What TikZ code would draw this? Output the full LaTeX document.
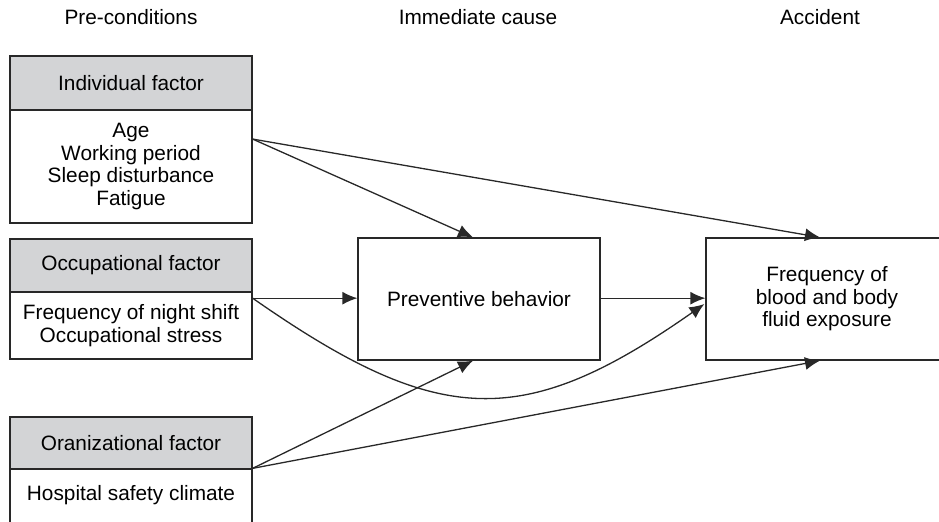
\documentclass[tikz,border=0pt]{standalone}
\usepackage{fontspec}
\setmainfont{Liberation Sans}
\usetikzlibrary{positioning, arrows.meta, calc}
\definecolor{headgray}{RGB}{211,212,214}
\definecolor{linegray}{RGB}{40,40,40}
\tikzstyle{factor head}=[draw=linegray, fill=headgray, minimum width=121pt, inner sep=0pt]
\tikzstyle{factor body}=[draw=linegray, fill=white, minimum width=121pt, inner sep=0pt, align=center]
\tikzstyle{stage}=[draw=linegray, minimum width=121pt, minimum height=61pt, inner sep=0pt, align=center]
\tikzstyle{title}=[]
\tikzstyle{arrow}=[-{Latex[length=7.5pt,width=6.5pt]}, draw=linegray]

\begin{document}
\begin{tikzpicture}[x=0.5pt, y=-0.5pt, line width=0.65pt,
    every node/.style={font=\fontsize{10.4}{11.3}\selectfont}]
      \useasboundingbox (0,0) rectangle (939,521);
      \clip (0,0) rectangle (939,521);

      \node[title] (preTitle) at (131,17) {Pre-conditions};
      \node[title] (causeTitle) at (478,17) {Immediate cause};
      \node[title] (accTitle) at (820,17) {Accident};

      \node[factor head, minimum height=27pt] (indHead) at (131,83) {Individual factor};
      \node[factor body, minimum height=56.5pt] (indBody) at (131,166.5) {Age\\Working period\\Sleep disturbance\\Fatigue};
      \node[factor head, minimum height=26.5pt] (occHead) at (131,265.5) {Occupational factor};
      \node[factor body, minimum height=33.5pt] (occBody) at (131,325.5) {Frequency of night shift\\Occupational stress};
      \node[factor head, minimum height=26pt] (orgHead) at (131,443) {Oranizational factor};
      \node[factor body, minimum height=52pt] (orgBody) at (131,521) {};
      \node (orgText) at (131,495) {Hospital safety climate};

      \node[stage] (prevention) at (479,299) {Preventive behavior};
      \node[stage] (exposure) at (827,299) {Frequency of\\blood and body\\fluid exposure};

      \coordinate (indOut) at ($(indBody.north east)!0.26!(indBody.south east)$);
      \coordinate (occOut) at ($(occBody.north east)!0.1!(occBody.south east)$);

      \draw[arrow] (indOut) -- ($(prevention.north)+(-6,0)$);
      \draw[arrow] (indOut) -- ($(exposure.north)+(-7,0)$);
      \draw[arrow] (occOut) -- (prevention.west |- occOut);
      \draw[arrow] (prevention.east |- occOut) -- (exposure.west |- occOut);
      \draw[arrow] (occOut) .. controls +(186,130) and +(-181,127) .. ($(exposure.west)+(-1,5)$);
      \draw[arrow] (orgBody.north east) -- ($(prevention.south)+(-6,0)$);
      \draw[arrow] (orgBody.north east) -- ($(exposure.south)+(-7,0)$);
    \end{tikzpicture}
\end{document}
